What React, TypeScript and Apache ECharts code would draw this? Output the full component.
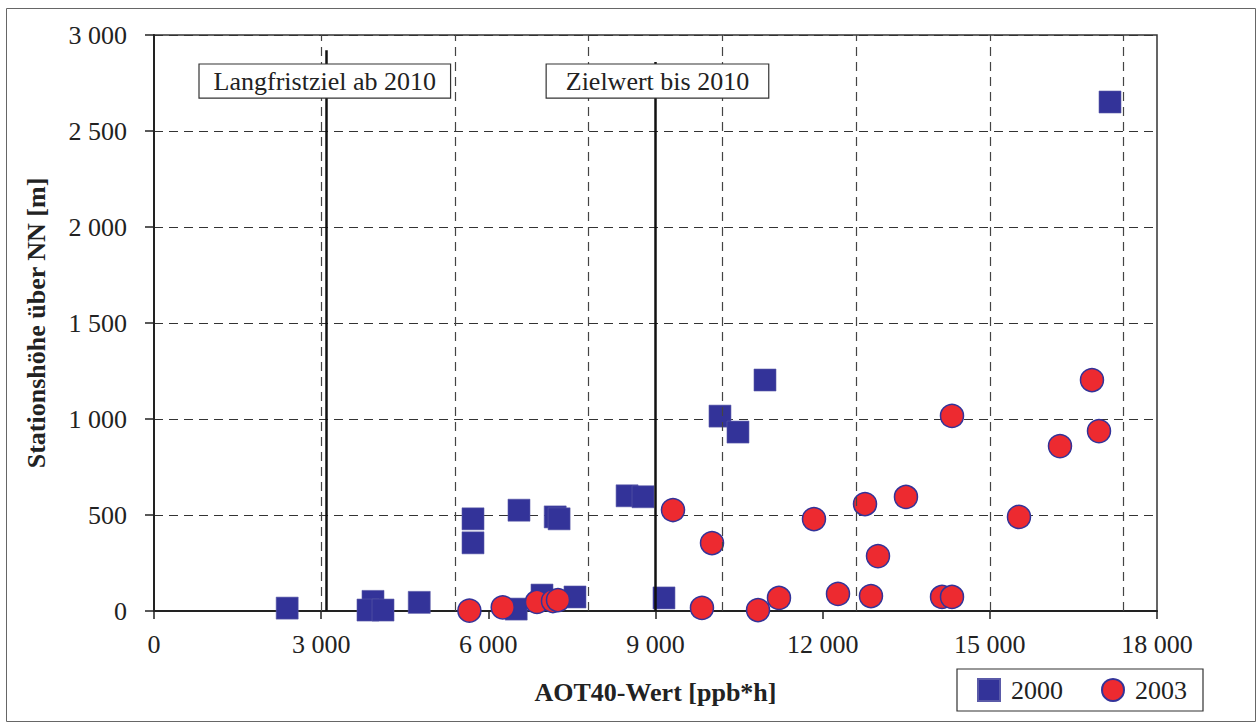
import React, { useEffect, useRef } from "react";
import * as echarts from "echarts";

// AOT40 value [ppb*h], station height [m]
const aot2000: number[] = [2390, 3930, 3840, 4110, 4760, 5725, 5725, 6550, 6500, 6963, 7555, 7200, 7270, 8490, 8776, 9152, 10157, 10480, 10965, 17157];
const height2000: number[] = [15, 50, 5, 5, 45, 480, 355, 525, 10, 83, 73, 490, 480, 600, 595, 68, 1015, 932, 1203, 2651];

const aot2003: number[] = [5660, 6258, 6873, 7160, 7250, 9314, 9834, 10014, 10840, 11216, 11844, 12275, 12760, 12867, 12993, 13495, 14142, 14321, 14321, 15523, 16259, 16833, 16959];
const height2003: number[] = [2, 19, 47, 52, 57, 526, 16, 354, 5, 68, 479, 89, 557, 78, 286, 594, 73, 73, 1016, 490, 859, 1203, 937];

const xTicks = { min: 0, max: 18000, interval: 3000 };
const yTicks = { min: 0, max: 3000, interval: 500 };
const xGridLines: number[] = [3000, 5400, 7800, 10200, 12600, 15000, 17400];

const refLines = [
  { label: "Langfristziel ab 2010", x: 3100, yFrom: 0, yTo: 2920, labelX: 3065, labelY: 2760, padH: 14 },
  { label: "Zielwert bis 2010", x: 9000, yFrom: 0, yTo: 2860, labelX: 9035, labelY: 2760, padH: 19 },
];

const FONT = "'Liberation Serif', 'Times New Roman', Times, serif";
const fmt = (v: number) => String(v).replace(/\B(?=(\d{3})+(?!\d))/g, " ");

export default function App() {
  const ref = useRef<HTMLDivElement>(null);
  useEffect(() => {
    document.body.style.margin = "0";
    if (!ref.current) return;
    const chart = echarts.init(ref.current, null, { renderer: "svg" });
    const zip = (a: number[], b: number[]) => a.map((v, i) => [v, b[i]]);
    chart.setOption({
      animation: false,
      backgroundColor: "#fff",
      textStyle: { fontFamily: FONT, color: "#222" },
      grid: { left: 154, right: 101, top: 35, bottom: 111, containLabel: false, show: true, borderColor: "#333", borderWidth: 1.5 },
      xAxis: {
        type: "value",
        min: xTicks.min,
        max: xTicks.max,
        interval: xTicks.interval,
        name: "AOT40-Wert [ppb*h]",
        nameLocation: "middle",
        nameGap: 68,
        nameTextStyle: { fontFamily: FONT, fontWeight: "bold", fontSize: 26, color: "#222" },
        axisLine: { lineStyle: { color: "#222", width: 2 } },
        axisTick: { show: true, inside: false, length: 8, lineStyle: { color: "#222", width: 1.5 } },
        axisLabel: { fontFamily: FONT, fontSize: 26, color: "#222", margin: 20, formatter: fmt },
        splitLine: { show: false },
      },
      yAxis: {
        type: "value",
        min: yTicks.min,
        max: yTicks.max,
        interval: yTicks.interval,
        name: "Stationshöhe über NN [m]",
        nameLocation: "middle",
        nameGap: 105,
        nameTextStyle: { fontFamily: FONT, fontWeight: "bold", fontSize: 26, color: "#222" },
        axisLine: { show: true, lineStyle: { color: "#222", width: 2 } },
        axisTick: { show: true, inside: false, length: 9, lineStyle: { color: "#222", width: 1.5 } },
        axisLabel: { fontFamily: FONT, fontSize: 26, color: "#222", margin: 27, formatter: fmt },
        splitLine: { show: true, lineStyle: { color: "#333", width: 1.2, type: [9, 6] } },
      },
      legend: {
        left: 957,
        top: 669,
        orient: "horizontal",
        itemWidth: 22,
        itemHeight: 22,
        itemGap: 38,
        padding: [8, 16, 8, 20],
        borderColor: "#333",
        borderWidth: 1.2,
        textStyle: { fontFamily: FONT, fontSize: 26, color: "#222", padding: [0, 0, 0, 6] },
        data: [
          { name: "2000", icon: "rect" },
          { name: "2003", icon: "circle" },
        ],
      },
      graphic: [
        { type: "rect", left: 4, top: 6, shape: { width: 1249, height: 713 }, style: { fill: "none", stroke: "#666", lineWidth: 1 }, silent: true },
      ],
      series: [
        {
          type: "scatter",
          name: "grid",
          data: [],
          silent: true,
          markLine: {
            silent: true,
            symbol: "none",
            label: { show: false },
            lineStyle: { color: "#444", width: 1.2, type: [9, 6] },
            data: xGridLines.map((v) => ({ xAxis: v })),
          },
        },
        {
          type: "scatter",
          name: "2000",
          symbol: "rect",
          symbolSize: 22,
          itemStyle: { color: "#333399", borderColor: "#5a5aa8", borderWidth: 0.6, opacity: 1 },
          data: zip(aot2000, height2000),
          z: 3,
        },
        {
          type: "scatter",
          name: "2003",
          symbol: "circle",
          symbolSize: 23,
          itemStyle: { color: "#ED2A30", borderColor: "#333399", borderWidth: 1.5, opacity: 1 },
          data: zip(aot2003, height2003),
          z: 4,
        },
        {
          type: "scatter",
          name: "ref",
          data: [],
          silent: true,
          z: 5,
          markLine: {
            silent: true,
            symbol: "none",
            label: { show: false },
            lineStyle: { color: "#111", width: 2.5, type: "solid" },
            data: refLines.map((r) => [{ coord: [r.x, r.yFrom] }, { coord: [r.x, r.yTo] }]),
          },
          markPoint: {
            silent: true,
            symbol: "rect",
            symbolSize: 1,
            itemStyle: { color: "rgba(0,0,0,0)" },
            data: refLines.map((r) => ({
              coord: [r.labelX, r.labelY],
              label: {
                show: true,
                position: "inside",
                formatter: r.label,
                fontFamily: FONT,
                fontSize: 26,
                color: "#222",
                backgroundColor: "#fff",
                borderColor: "#333",
                borderWidth: 1.2,
                padding: [4, r.padH, 3, r.padH],
              },
            })),
          },
        },
      ],
    });
    return () => chart.dispose();
  }, []);
  return <div ref={ref} style={{ width: 1258, height: 722 }} />;
}
